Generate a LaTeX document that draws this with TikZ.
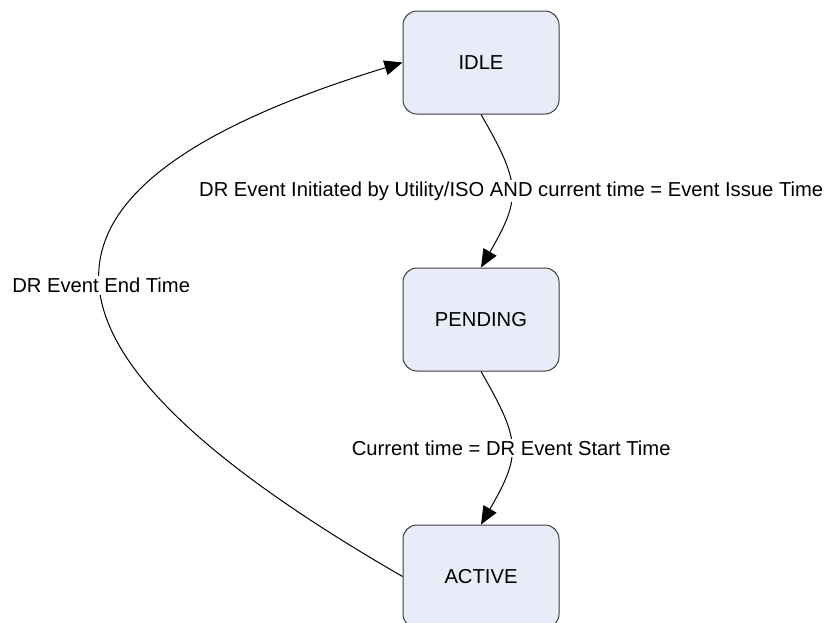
\documentclass[tikz,border=0pt]{standalone}
\usepackage{fontspec}
\setmainfont{Liberation Sans}
\usepackage{xcolor}
\usepackage{tikz}
\usetikzlibrary{arrows.meta,positioning}
\definecolor{statefill}{RGB}{232,236,248}
\definecolor{stateline}{RGB}{60,60,60}

\begin{document}
\begin{tikzpicture}[
    x=0.5pt, y=-0.5pt,
    node distance=76.5pt,
    font=\fontsize{10.1}{12}\selectfont,
    state/.style={rectangle, draw=stateline, line width=0.5pt, rounded corners=7pt, fill=statefill, minimum width=78pt, minimum height=51.5pt},
    arrow/.style={line width=0.5pt, -{Triangle[length=9pt, width=7.5pt]}},
    trigger/.style={fill=white, inner sep=1pt}
]
    \useasboundingbox (0,0) rectangle (830,622);

    % States
    \node [state] (idle) at (481,62.5) {IDLE};
    \node [state, below=of idle] (pending) {PENDING};
    \node [state, below=of pending] (active) {ACTIVE};

    % Transitions
    \draw [arrow] (idle.south) to[out=-60, in=60, looseness=1.35] node[trigger] {DR Event Initiated by Utility/ISO AND current time = Event Issue Time} (pending.north);
    \draw [arrow] (pending.south) to[out=-60, in=60, looseness=1.35] node[trigger] {Current time = DR Event Start Time} (active.north);
    \draw [arrow] (active.west) to[out=150, in=197, looseness=2.2] node[trigger] {DR Event End Time} (idle.west);
\end{tikzpicture}
\end{document}
